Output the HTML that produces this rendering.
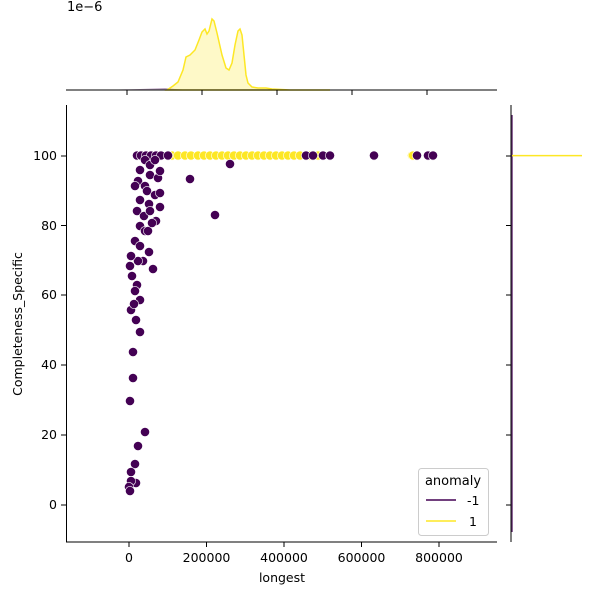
<!DOCTYPE html>
<html><head><meta charset="utf-8"><style>
body{margin:0;background:#fff}
svg{display:block;font-family:"DejaVu Sans","Liberation Sans",sans-serif}
</style></head><body>
<svg width="600" height="600" viewBox="0 0 600 600" xmlns="http://www.w3.org/2000/svg">
<rect width="600" height="600" fill="#fff"/>
<!-- top marginal -->
<text x="67" y="11" font-size="13" fill="#000">1e−6</text>
<path d="M100,90 L140,89 L165,88 L175,89 L190,90 Z" fill="#440154" fill-opacity="0.35"/>
<path d="M167,90 L173,86 L178,82 L183,70 L186,57 L190,55 L195,50 L199,40 L202,32 L205,29 L207,34 L209,31 L212,19 L214,21 L217,33 L222,55 L226,68 L229,70 L232,63 L235,45 L238,31 L240,29 L242,35 L244,55 L246,75 L248,83 L252,87 L258,88 L266,88 L272,89 L290,90 L330,90 Z" fill="#fde725" fill-opacity="0.25" stroke="#fde725" stroke-width="1.5"/>
<line x1="66" y1="90" x2="497" y2="90" stroke="#000" stroke-width="1"/>
<g stroke="#000" stroke-width="1"><line x1="127" y1="90" x2="127" y2="95"/><line x1="202" y1="90" x2="202" y2="95"/><line x1="277" y1="90" x2="277" y2="95"/><line x1="352" y1="90" x2="352" y2="95"/><line x1="427" y1="90" x2="427" y2="95"/></g>
<!-- right marginal -->
<line x1="512" y1="115" x2="512" y2="532" stroke="#440154" stroke-opacity="0.8" stroke-width="1.5"/>
<line x1="512" y1="155.6" x2="582" y2="155.6" stroke="#fde725" stroke-width="1.5"/>
<line x1="511" y1="105" x2="511" y2="542" stroke="#000" stroke-width="1"/>
<g stroke="#000" stroke-width="1"><line x1="506" y1="156" x2="511" y2="156"/><line x1="506" y1="225.5" x2="511" y2="225.5"/><line x1="506" y1="295" x2="511" y2="295"/><line x1="506" y1="365" x2="511" y2="365"/><line x1="506" y1="435" x2="511" y2="435"/><line x1="506" y1="505" x2="511" y2="505"/></g>
<!-- main axes -->
<line x1="66.5" y1="105" x2="66.5" y2="542" stroke="#000"/>
<line x1="66" y1="542" x2="497" y2="542" stroke="#000"/>
<g stroke="#000"><line x1="129" y1="542" x2="129" y2="547"/><line x1="206.5" y1="542" x2="206.5" y2="547"/><line x1="284" y1="542" x2="284" y2="547"/><line x1="361.5" y1="542" x2="361.5" y2="547"/><line x1="439" y1="542" x2="439" y2="547"/>
<line x1="61" y1="156" x2="66" y2="156"/><line x1="61" y1="225.5" x2="66" y2="225.5"/><line x1="61" y1="295" x2="66" y2="295"/><line x1="61" y1="365" x2="66" y2="365"/><line x1="61" y1="435" x2="66" y2="435"/><line x1="61" y1="505" x2="66" y2="505"/></g>
<g font-size="12.5" fill="#000" text-anchor="middle"><text x="129" y="562">0</text><text x="206.5" y="562">200000</text><text x="284" y="562">400000</text><text x="361.5" y="562">600000</text><text x="439" y="562">800000</text>
<text x="282" y="582">longest</text></g>
<g font-size="12.5" fill="#000" text-anchor="end"><text x="57" y="160">100</text><text x="57" y="230">80</text><text x="57" y="299">60</text><text x="57" y="369">40</text><text x="57" y="439">20</text><text x="57" y="509">0</text></g>
<text transform="translate(22,324) rotate(-90)" font-size="12.5" text-anchor="middle">Completeness_Specific</text>
<!-- yellow points -->
<g fill="#fde725" stroke="#fff" stroke-width="0.6">
<circle cx="172" cy="155.5" r="4.6"/><circle cx="178" cy="155.5" r="4.6"/><circle cx="185" cy="155.5" r="4.6"/><circle cx="191" cy="155.5" r="4.6"/><circle cx="198" cy="155.5" r="4.6"/><circle cx="204" cy="155.5" r="4.6"/><circle cx="210" cy="155.5" r="4.6"/><circle cx="216" cy="155.5" r="4.6"/><circle cx="222" cy="155.5" r="4.6"/><circle cx="228" cy="155.5" r="4.6"/><circle cx="234" cy="155.5" r="4.6"/><circle cx="240" cy="155.5" r="4.6"/><circle cx="246" cy="155.5" r="4.6"/><circle cx="252" cy="155.5" r="4.6"/><circle cx="258" cy="155.5" r="4.6"/><circle cx="264" cy="155.5" r="4.6"/><circle cx="270" cy="155.5" r="4.6"/><circle cx="276" cy="155.5" r="4.6"/><circle cx="282" cy="155.5" r="4.6"/><circle cx="288" cy="155.5" r="4.6"/><circle cx="294" cy="155.5" r="4.6"/><circle cx="300" cy="155.5" r="4.6"/><circle cx="310" cy="155.5" r="4.6"/><circle cx="318" cy="155.5" r="4.6"/><circle cx="412" cy="155.5" r="4.6"/><circle cx="413" cy="155.5" r="4.6"/>
</g>
<!-- purple points -->
<g fill="#440154" stroke="#fff" stroke-width="0.6">
<circle cx="137" cy="155.5" r="4.6"/><circle cx="141" cy="155.5" r="4.6"/><circle cx="146" cy="155.5" r="4.6"/><circle cx="151" cy="155.5" r="4.6"/><circle cx="156" cy="155.5" r="4.6"/><circle cx="161" cy="155.5" r="4.6"/><circle cx="168" cy="155.5" r="4.6"/><circle cx="306" cy="155.5" r="4.6"/><circle cx="313" cy="155.5" r="4.6"/><circle cx="323" cy="155.5" r="4.6"/><circle cx="330" cy="155.5" r="4.6"/><circle cx="374" cy="155.5" r="4.6"/><circle cx="417" cy="155.5" r="4.6"/><circle cx="428" cy="155.5" r="4.6"/><circle cx="433" cy="155.5" r="4.6"/>
<circle cx="145" cy="160" r="4.6"/><circle cx="150" cy="165" r="4.6"/><circle cx="155" cy="160" r="4.6"/><circle cx="140" cy="170" r="4.6"/><circle cx="150" cy="175" r="4.6"/><circle cx="138" cy="181" r="4.6"/><circle cx="145" cy="186" r="4.6"/><circle cx="158" cy="178" r="4.6"/><circle cx="160" cy="171" r="4.6"/><circle cx="135" cy="186" r="4.6"/><circle cx="147" cy="191" r="4.6"/><circle cx="140" cy="200" r="4.6"/><circle cx="155" cy="195" r="4.6"/><circle cx="149" cy="204" r="4.6"/><circle cx="160" cy="207" r="4.6"/><circle cx="137" cy="211" r="4.6"/><circle cx="144" cy="216" r="4.6"/><circle cx="150" cy="211" r="4.6"/><circle cx="156" cy="221" r="4.6"/><circle cx="140" cy="226" r="4.6"/><circle cx="145" cy="231" r="4.6"/><circle cx="135" cy="241" r="4.6"/><circle cx="140" cy="246" r="4.6"/><circle cx="148" cy="231" r="4.6"/><circle cx="152" cy="223" r="4.6"/><circle cx="143" cy="261" r="4.6"/><circle cx="138" cy="261" r="4.6"/><circle cx="131" cy="256" r="4.6"/><circle cx="130" cy="266" r="4.6"/><circle cx="132" cy="276" r="4.6"/><circle cx="137" cy="285" r="4.6"/><circle cx="135" cy="291" r="4.6"/><circle cx="140" cy="300" r="4.6"/><circle cx="131" cy="310" r="4.6"/><circle cx="136" cy="320" r="4.6"/><circle cx="140" cy="332" r="4.6"/><circle cx="149" cy="252" r="4.6"/><circle cx="153" cy="269" r="4.6"/><circle cx="160" cy="193" r="4.6"/><circle cx="190" cy="179" r="4.6"/><circle cx="230" cy="164" r="4.6"/><circle cx="215" cy="215" r="4.6"/><circle cx="134" cy="304" r="4.6"/><circle cx="133" cy="352" r="4.6"/><circle cx="133" cy="378" r="4.6"/><circle cx="130" cy="401" r="4.6"/><circle cx="145" cy="432" r="4.6"/><circle cx="138" cy="446" r="4.6"/><circle cx="135" cy="464" r="4.6"/><circle cx="131" cy="472" r="4.6"/><circle cx="136" cy="483" r="4.6"/><circle cx="131" cy="481" r="4.6"/><circle cx="129" cy="487" r="4.6"/><circle cx="130" cy="491" r="4.6"/>
</g>
<!-- legend -->
<rect x="418.5" y="468.5" width="70" height="67" rx="3" fill="#fff" fill-opacity="0.8" stroke="#ccc"/>
<text x="453" y="485" font-size="13" text-anchor="middle">anomaly</text>
<line x1="426" y1="500" x2="456" y2="500" stroke="#440154" stroke-width="1.5"/>
<text x="467" y="505" font-size="12.5">-1</text>
<line x1="426" y1="521" x2="456" y2="521" stroke="#fde725" stroke-width="1.5"/>
<text x="469" y="526" font-size="12.5">1</text>
</svg>
</body></html>
